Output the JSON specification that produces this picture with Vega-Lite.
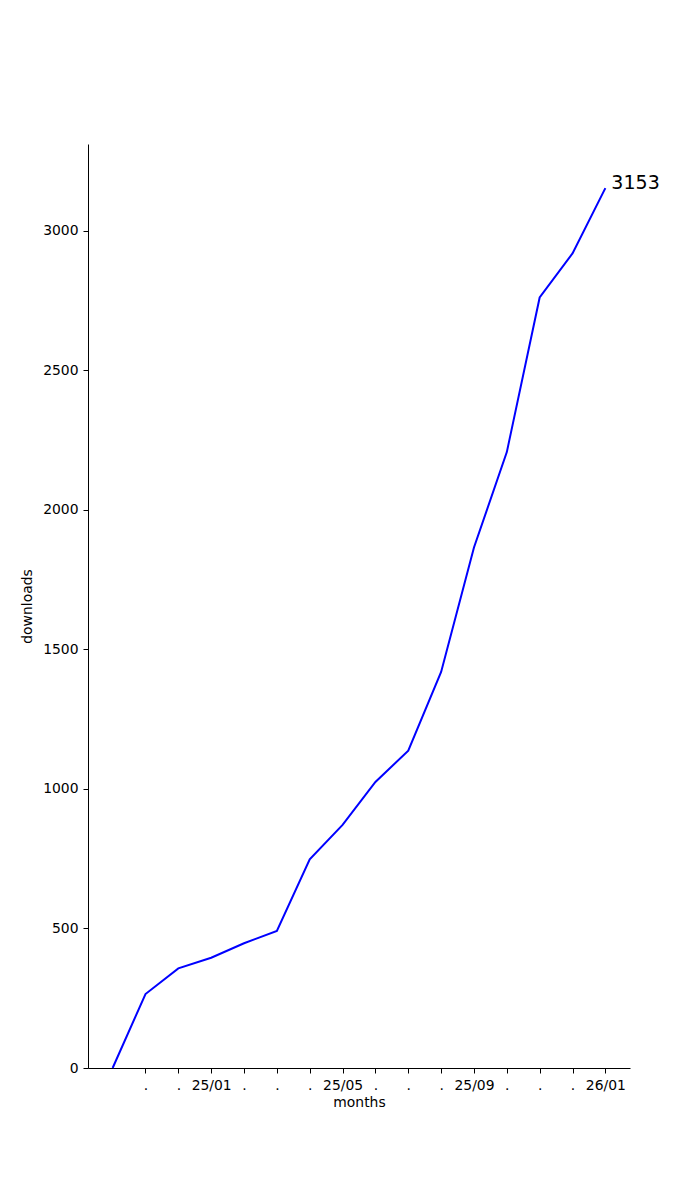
{
  "$schema": "https://vega.github.io/schema/vega-lite/v6.json",
  "autosize": {"type": "none"},
  "padding": {"left": 88, "top": 144, "right": 70, "bottom": 132},
  "width": 542,
  "height": 924,
  "background": "white",
  "config": {
    "view": {"stroke": null},
    "font": "DejaVu Sans",
    "axis": {
      "grid": false,
      "domainColor": "black",
      "tickColor": "black",
      "labelColor": "black",
      "titleColor": "black",
      "labelFont": "DejaVu Sans",
      "titleFont": "DejaVu Sans",
      "labelFontSize": 13.9,
      "titleFontSize": 13.9,
      "titleFontWeight": "normal",
      "tickSize": 5,
      "labelPadding": 5,
      "domainWidth": 1,
      "tickWidth": 1
    }
  },
  "data": {
    "values": [
      {"i": 0, "month": "24/10", "downloads": 0},
      {"i": 1, "month": "24/11", "downloads": 265},
      {"i": 2, "month": "24/12", "downloads": 357},
      {"i": 3, "month": "25/01", "downloads": 395},
      {"i": 4, "month": "25/02", "downloads": 447},
      {"i": 5, "month": "25/03", "downloads": 491},
      {"i": 6, "month": "25/04", "downloads": 748},
      {"i": 7, "month": "25/05", "downloads": 871},
      {"i": 8, "month": "25/06", "downloads": 1025},
      {"i": 9, "month": "25/07", "downloads": 1137},
      {"i": 10, "month": "25/08", "downloads": 1419},
      {"i": 11, "month": "25/09", "downloads": 1865},
      {"i": 12, "month": "25/10", "downloads": 2207},
      {"i": 13, "month": "25/11", "downloads": 2761},
      {"i": 14, "month": "25/12", "downloads": 2919},
      {"i": 15, "month": "26/01", "downloads": 3153}
    ]
  },
  "encoding": {
    "x": {
      "field": "i",
      "type": "quantitative",
      "scale": {"domain": [-0.75, 15.75], "nice": false, "zero": false},
      "axis": {
        "title": "months",
        "titlePadding": 4,
        "values": [1, 2, 3, 4, 5, 6, 7, 8, 9, 10, 11, 12, 13, 14, 15],
        "labelExpr": "datum.value == 3 ? '25/01' : datum.value == 7 ? '25/05' : datum.value == 11 ? '25/09' : datum.value == 15 ? '26/01' : '.'",
        "labelFlush": false,
        "labelOverlap": false
      }
    },
    "y": {
      "field": "downloads",
      "type": "quantitative",
      "scale": {"domain": [0, 3311], "nice": false},
      "axis": {
        "title": "downloads",
        "titlePadding": 8,
        "format": "d",
        "values": [0, 500, 1000, 1500, 2000, 2500, 3000],
        "labelFlush": false
      }
    }
  },
  "layer": [
    {
      "mark": {"type": "line", "color": "#0000ff", "strokeWidth": 2, "clip": false}
    },
    {
      "transform": [{"filter": "datum.i == 15"}],
      "mark": {"type": "text", "align": "left", "baseline": "alphabetic", "dx": 6, "dy": 1, "fontSize": 19, "font": "DejaVu Sans", "color": "black"},
      "encoding": {"text": {"field": "downloads", "type": "quantitative", "format": "d"}}
    }
  ]
}
